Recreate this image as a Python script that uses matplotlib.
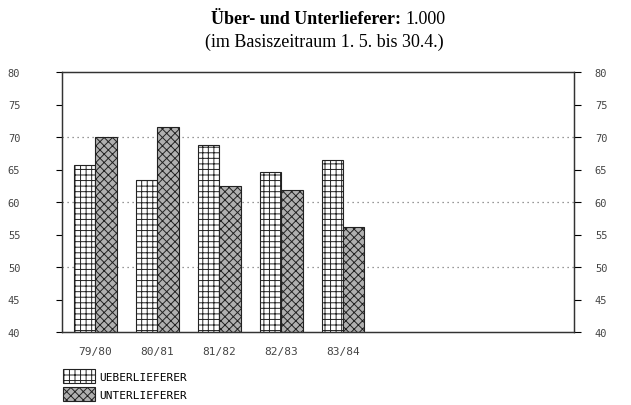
import numpy as np
import matplotlib
matplotlib.use('Agg')
from matplotlib import pyplot as plt

# data
seasons = ['79/80', '80/81', '81/82', '82/83', '83/84']
ueber = [65.7, 63.4, 68.7, 64.6, 66.5]
unter = [70.0, 71.5, 62.5, 61.9, 56.2]
y_ticks = [40, 45, 50, 55, 60, 65, 70, 75, 80]
grid_levels = [50, 60, 70]

plt.rcParams['hatch.linewidth'] = 0.7
plt.rcParams['hatch.color'] = '#222222'

W, H = 631, 406
fig = plt.figure(figsize=(W / 100, H / 100), dpi=100)
ax = fig.add_axes([62 / W, 1 - 333 / H, 512 / W, 260 / H])

x = np.arange(len(seasons))
w = 0.34
b1 = ax.bar(x - w / 2, ueber, w, color='white', edgecolor='#222222',
            hatch='+++', linewidth=0.8, label='UEBERLIEFERER')
b2 = ax.bar(x + w / 2, unter, w, color='#b0b0b0', edgecolor='#222222',
            hatch='xxxx', linewidth=0.8, label='UNTERLIEFERER')

for g in grid_levels:
    ax.axhline(g, color='#777777', linestyle=(0, (1, 3)), linewidth=0.9, zorder=0)

y_font = {'family': 'DejaVu Sans Mono', 'size': 7.5}
x_font = {'family': 'DejaVu Sans Mono', 'size': 8}
ax.set_xlim(-0.54, 7.72)
ax.set_ylim(40, 80)
ax.set_yticks(y_ticks)
ax.set_yticklabels([str(v) for v in y_ticks], fontdict=y_font)
ax.set_xticks(x)
ax.set_xticklabels(seasons, fontdict=x_font)
ax.tick_params(axis='x', length=0, pad=10, labelcolor='#444444')
ax.tick_params(axis='y', direction='out', length=4, width=0.8,
               labelcolor='#444444', pad=26)

# right hand scale, labels closer to the axis
ax2 = ax.twinx()
ax2.set_ylim(40, 80)
ax2.set_yticks(y_ticks)
ax2.set_yticklabels([str(v) for v in y_ticks], fontdict=y_font)
ax2.tick_params(axis='y', direction='out', length=5, width=0.8,
                labelcolor='#444444', pad=10)

for a in (ax, ax2):
    for spine in a.spines.values():
        spine.set_linewidth(0.9)
        spine.set_color('#333333')

# two-part first title line, centred as a whole
t1 = fig.text(0, 1 - 20 / H, 'Über- und Unterlieferer:', ha='left', va='center',
              family='Liberation Serif', fontweight='bold', fontsize=13)
t2 = fig.text(0, 1 - 20 / H, '1.000', ha='left', va='center',
              family='Liberation Serif', fontsize=13)
fig.canvas.draw()
r = fig.canvas.get_renderer()
w1 = t1.get_window_extent(r).width
w2 = t2.get_window_extent(r).width
gap = 4
start = 328 - (w1 + gap + w2) / 2
t1.set_x(start / W)
t2.set_x((start + w1 + gap) / W)

fig.text(324 / W, 1 - 42 / H, '(im Basiszeitraum 1. 5. bis 30.4.)', ha='center',
         va='center', family='Liberation Serif', fontsize=13)

fig.legend(handles=[b1, b2], loc='upper left', bbox_to_anchor=(63 / W, 1 - 370 / H),
           frameon=False, prop=x_font,
           handlelength=2.9, handleheight=1.6, labelspacing=0.35, handletextpad=0.4,
           borderaxespad=0, borderpad=0)

fig.savefig('out.png', dpi=100)
